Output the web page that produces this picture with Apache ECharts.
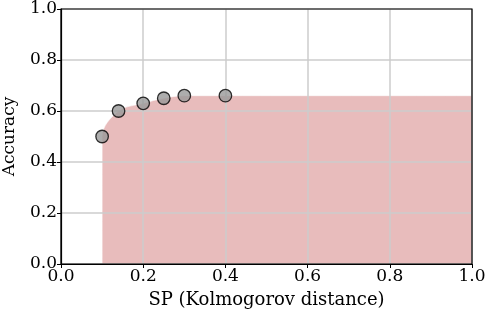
<!DOCTYPE html>
<html><head><meta charset="utf-8">
<script src="https://cdn.jsdelivr.net/npm/echarts@6/dist/echarts.min.js"></script>
<style>html,body{margin:0;padding:0;background:#fff}#c{width:486px;height:314px}</style>
</head><body><div id="c"></div>
<script>
const spValues = [0.10, 0.14, 0.20, 0.25, 0.30, 0.40];
const accValues = [0.50, 0.60, 0.63, 0.65, 0.66, 0.66];
const xTicks = [0.0, 0.2, 0.4, 0.6, 0.8, 1.0];
const yTicks = [0.0, 0.2, 0.4, 0.6, 0.8, 1.0];
const xMax = 1.0;

const points = spValues.map((x, i) => [x, accValues[i]]);
const front = [[spValues[0], 0]].concat(points).concat([[xMax, accValues[accValues.length - 1]]]);

const font = 'DejaVu Serif';
const gridColor = '#cdcdcd';
const fmt = ticks => v => { const t = ticks.find(k => Math.abs(k - v) < 1e-9); return t === undefined ? '' : t.toFixed(1); };
const chart = echarts.init(document.getElementById('c'), null, {renderer: 'canvas'});
chart.setOption({
  animation: false,
  grid: {left: 61, right: 14, top: 9, bottom: 50, containLabel: false, outerBoundsMode: 'none',
    show: true, borderColor: '#000', borderWidth: 1.2, backgroundColor: 'transparent', z: 4},
  xAxis: {
    type: 'value', min: 0, max: 1, interval: 0.2, z: 3,
    name: 'SP (Kolmogorov distance)', nameLocation: 'middle', nameGap: 27,
    nameTextStyle: {fontFamily: font, fontSize: 18, color: '#000'},
    axisLine: {show: true, lineStyle: {color: '#000', width: 1.2}},
    axisTick: {show: true, inside: false, length: 4, lineStyle: {color: '#000'}},
    axisLabel: {fontFamily: font, fontSize: 17, color: '#000', margin: 4, formatter: fmt(xTicks)},
    splitLine: {show: true, lineStyle: {color: gridColor, width: 1.5}}
  },
  yAxis: {
    type: 'value', min: 0, max: 1, interval: 0.2, z: 3,
    name: 'Accuracy', nameLocation: 'middle', nameGap: 43,
    nameTextStyle: {fontFamily: font, fontSize: 17, color: '#000'},
    axisLine: {show: true, lineStyle: {color: '#000', width: 1.2}},
    axisTick: {show: true, inside: false, length: 4, lineStyle: {color: '#000'}},
    axisLabel: {fontFamily: font, fontSize: 17, color: '#000', margin: 4, formatter: fmt(yTicks)},
    splitLine: {show: true, lineStyle: {color: gridColor, width: 1.5}}
  },
  series: [
    {
      type: 'line', data: front, smooth: 0.35, symbol: 'none', z: 1,
      lineStyle: {width: 1, color: 'rgba(255,255,255,0.6)'},
      areaStyle: {color: 'rgb(232,188,188)', opacity: 1, origin: 'start'}
    },
    {
      type: 'scatter', data: points, symbol: 'circle', symbolSize: 12.5, z: 5,
      itemStyle: {color: '#999999', borderColor: '#000', borderWidth: 1.3}
    }
  ]
});
</script></body></html>
